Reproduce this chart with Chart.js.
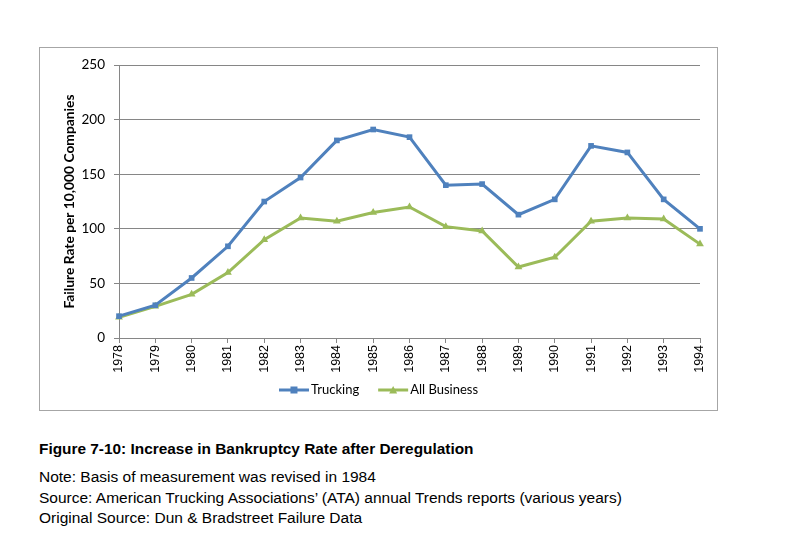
<!DOCTYPE html>
<html>
<head>
<meta charset="utf-8">
<script src="https://cdn.jsdelivr.net/npm/chart.js@4.4.1/dist/chart.umd.min.js"></script>
<style>
  body { margin: 0; background: #fff; width: 802px; height: 540px; position: relative; overflow: hidden; }
  #box { position: absolute; left: 39px; top: 47px; width: 677px; height: 362px; border: 1px solid #a6a6a6; }
  #box canvas { display: block; }
  .cap { position: absolute; left: 39px; font-family: "Liberation Sans", Arial, sans-serif; font-size: 15.5px; color: #000; white-space: nowrap; line-height: 18px; }
  .cap b { font-weight: bold; font-size: 15.4px; }
</style>
</head>
<body>
<div id="box"><canvas id="graf" width="677" height="362"></canvas></div>
<div class="cap" style="top:440px"><b>Figure 7-10: Increase in Bankruptcy Rate after Deregulation</b></div>
<div class="cap" style="top:468px">Note: Basis of measurement was revised in 1984</div>
<div class="cap" style="top:489px">Source: American Trucking Associations’ (ATA) annual Trends reports (various years)</div>
<div class="cap" style="top:509px">Original Source: Dun &amp; Bradstreet Failure Data</div>
<script>
/*Datos*/
const anios = ['1978', '1979', '1980', '1981', '1982', '1983', '1984', '1985', '1986',
    '1987', '1988', '1989', '1990', '1991', '1992', '1993', '1994']
const trucking = [20, 30, 55, 84, 125, 147, 181, 191, 184, 140, 141, 113, 127, 176, 170, 127, 100]
const allBusiness = [19, 29, 40, 60, 90, 110, 107, 115, 120, 102, 98, 65, 74, 107, 110, 109, 86]
const ticksY = [0, 50, 100, 150, 200, 250]

const azul = '#4F81BD'
const verde = '#9BBB59'
const fuenteCal = "Lato, 'Liberation Sans', sans-serif"

//Leyenda estilo Excel: linea con marcador y texto, centrada bajo el eje
const leyendaLinea = {
    id: 'leyendaLinea',
    afterDraw(chart) {
        let ctx = chart.ctx
        let y = 342
        ctx.save()
        ctx.font = `13px ${fuenteCal}`
        ctx.textBaseline = 'middle'
        ctx.textAlign = 'left'
        let items = chart.data.datasets.map(ds => ({ ds: ds, w: ctx.measureText(ds.label).width }))
        let total = 0
        items.forEach((it, i) => { total += 30 + 2 + it.w + (i < items.length - 1 ? 19 : 0) })
        let x = (chart.width - total) / 2
        items.forEach(it => {
            let c = it.ds.borderColor
            ctx.strokeStyle = c
            ctx.fillStyle = c
            ctx.lineWidth = 3
            ctx.beginPath()
            ctx.moveTo(x, y)
            ctx.lineTo(x + 30, y)
            ctx.stroke()
            ctx.beginPath()
            if (it.ds.pointStyle == 'rect') {
                ctx.rect(x + 11.5, y - 3.5, 7, 7)
            } else {
                ctx.moveTo(x + 15, y - 4)
                ctx.lineTo(x + 19, y + 3.5)
                ctx.lineTo(x + 11, y + 3.5)
                ctx.closePath()
            }
            ctx.fill()
            ctx.fillStyle = '#000'
            ctx.fillText(it.ds.label, x + 32, y)
            x += 32 + it.w + 19
        })
        ctx.restore()
    }
}

let graf = new Chart("graf", {
    type: 'line',
    data: {
        labels: anios,
        datasets: [{
            label: 'Trucking',
            data: trucking,
            borderColor: azul,
            backgroundColor: azul,
            borderWidth: 3,
            pointStyle: 'rect',
            pointRadius: 4,
            pointBorderWidth: 0,
            tension: 0
        }, {
            label: 'All Business',
            data: allBusiness,
            borderColor: verde,
            backgroundColor: verde,
            borderWidth: 3,
            pointStyle: 'triangle',
            pointRadius: 4.5,
            pointBorderWidth: 0,
            tension: 0
        }]
    },
    plugins: [leyendaLinea],
    options: {
        responsive: false,
        animation: false,
        layout: { padding: { top: 16, right: 16, left: 0, bottom: 34 } },
        plugins: {
            tooltip: { enabled: false },
            legend: { display: false }
        },
        scales: {
            x: {
                offset: false,
                grid: { drawOnChartArea: false, drawTicks: true, tickLength: 5, color: '#868686' },
                border: { color: '#868686', width: 1 },
                ticks: {
                    minRotation: 90,
                    maxRotation: 90,
                    autoSkip: false,
                    padding: 2,
                    color: '#000',
                    font: { family: "'Liberation Sans', Arial, sans-serif", size: 12.5 }
                },
                afterFit: function (s) { s.height = 38 }
            },
            y: {
                min: 0,
                max: 250,
                afterBuildTicks: function (s) { s.ticks = ticksY.map(v => ({ value: v })) },
                grid: { color: '#868686', tickLength: 5, drawTicks: true },
                border: { color: '#868686', width: 1 },
                ticks: {
                    padding: 9,
                    color: '#000',
                    font: { family: fuenteCal, size: 13.5 }
                },
                title: {
                    display: true,
                    text: 'Failure Rate per 10,000 Companies',
                    color: '#000',
                    padding: { top: 21, bottom: 0 },
                    font: { family: fuenteCal, size: 13.8, weight: 'bold' }
                },
                afterFit: function (s) { s.width = 79 }
            }
        }
    }
});
</script>
</body>
</html>
